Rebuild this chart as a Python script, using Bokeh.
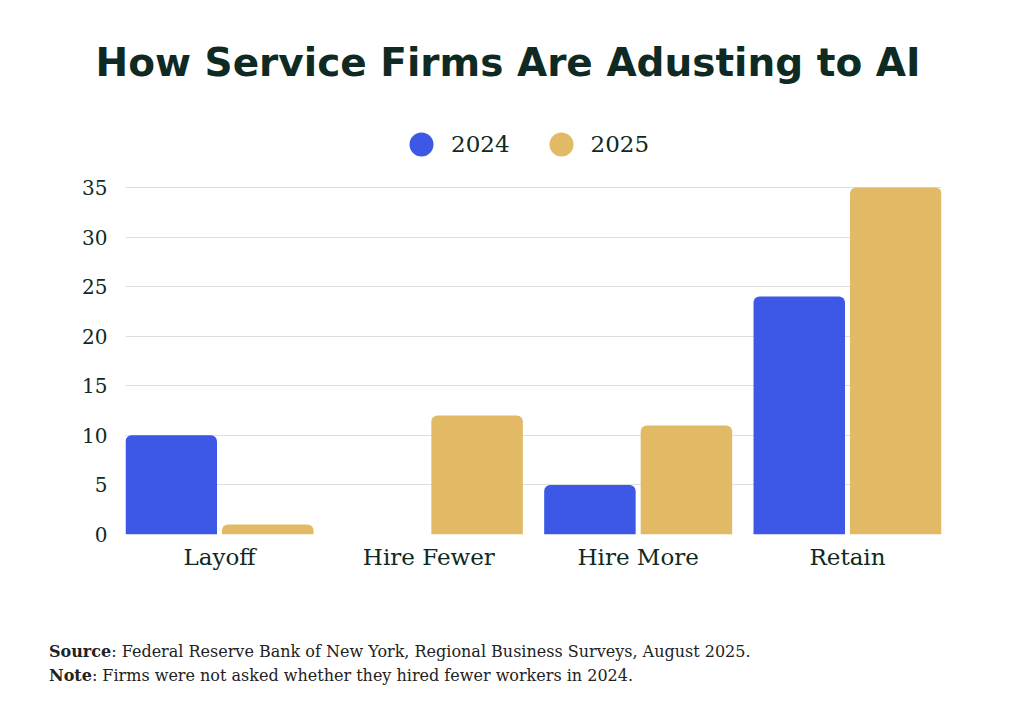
from bokeh.plotting import figure
from bokeh.models import (FactorRange, Range1d, FixedTicker, Legend, LegendItem,
                          ColumnDataSource, Div)
from bokeh.layouts import column
from bokeh.transform import dodge
from bokeh.embed import file_html
from bokeh.resources import INLINE

# ---- data ----
categories = ["Layoff", "Hire Fewer", "Hire More", "Retain"]
values_2024 = [10, 0, 5, 24]
values_2025 = [1, 12, 11, 35]
series_names = ["2024", "2025"]
y_ticks = [0, 5, 10, 15, 20, 25, 30, 35]

title_text = "How Service Firms Are Adusting to AI"
source_bold = "Source"
source_text = ": Federal Reserve Bank of New York, Regional Business Surveys, August 2025."
note_bold = "Note"
note_text = ": Firms were not asked whether they hired fewer workers in 2024."

BLUE = "#3d58e6"
GOLD = "#e2b965"
DARK = "#0e2a22"
SERIF = "DejaVu Serif"

src = ColumnDataSource(dict(cat=categories, v2024=values_2024, v2025=values_2025))

# title block
title_div = Div(text=title_text, width=1008, height=110, margin=0,
                styles={"font-family": "DejaVu Sans", "font-weight": "bold",
                        "font-size": "39px", "line-height": "46px", "color": DARK,
                        "text-align": "center", "padding-left": "8px",
                        "padding-top": "40px", "box-sizing": "border-box",
                        "width": "1008px", "white-space": "nowrap"})

# chart: frame spans page y 110..534; value 35 sits at page y 187
p = figure(x_range=FactorRange(factors=categories, range_padding=-0.051,
                               range_padding_units="absolute"),
           y_range=Range1d(0, 42.77),
           width=1008, height=490,
           min_border_left=125, min_border_right=67,
           min_border_top=0, min_border_bottom=66,
           output_backend="svg", toolbar_location=None,
           background_fill_color="white", border_fill_color="white")
p.outline_line_color = None

bw = 0.437
p.vbar(x=dodge("cat", -0.2305, range=p.x_range), top="v2024", width=bw, source=src,
       fill_color=BLUE, line_color=None, border_radius=(6, 6, 0, 0))
p.vbar(x=dodge("cat", 0.2305, range=p.x_range), top="v2025", width=bw, source=src,
       fill_color=GOLD, line_color=None, border_radius=(6, 6, 0, 0))

# legend (circle markers)
r1 = p.scatter(x=[categories[0]], y=[-100], marker="circle", size=24,
               fill_color=BLUE, line_color=None)
r2 = p.scatter(x=[categories[0]], y=[-100], marker="circle", size=24,
               fill_color=GOLD, line_color=None)
legend = Legend(items=[LegendItem(label=series_names[0], renderers=[r1]),
                       LegendItem(label=series_names[1], renderers=[r2])],
                orientation="horizontal", location=(266, 360),
                glyph_width=60, glyph_height=60, label_standoff=0, spacing=21,
                padding=0, margin=0, border_line_color=None,
                background_fill_alpha=0,
                label_text_font=SERIF, label_text_font_size="23px",
                label_text_color=DARK)
p.add_layout(legend, "center")

# axes
p.xgrid.grid_line_color = None
p.ygrid.grid_line_color = "#dedede"
p.ygrid.grid_line_width = 1
p.yaxis.ticker = FixedTicker(ticks=y_ticks)
for ax in (p.xaxis[0], p.yaxis[0]):
    ax.axis_line_color = None
    ax.major_tick_line_color = None
    ax.minor_tick_line_color = None
    ax.major_label_text_font = SERIF
    ax.major_label_text_color = DARK
p.yaxis.major_label_text_font_size = "20px"
p.yaxis.major_label_standoff = 12
p.xaxis.major_label_text_font_size = "23px"
p.xaxis.major_label_standoff = 3

# notes
notes_html = (f"<b>{source_bold}</b>{source_text}<br>"
              f"<b>{note_bold}</b>{note_text}")
notes = Div(text=notes_html, width=1008, height=100, margin=0,
            styles={"font-family": SERIF, "font-size": "16px", "line-height": "24px",
                    "color": "#222222", "padding-left": "49px", "padding-top": "40px",
                    "box-sizing": "border-box"})

layout = column(title_div, p, notes, spacing=0)
open("out.html", "w").write(file_html(layout, INLINE))
